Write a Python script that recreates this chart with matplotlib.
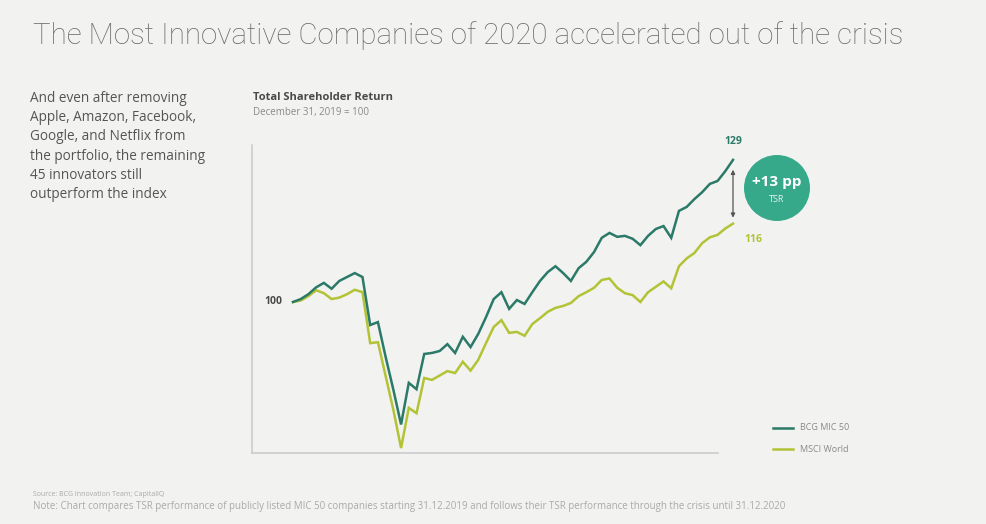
import numpy as np
import matplotlib
matplotlib.use("Agg")
import matplotlib.pyplot as plt
from matplotlib.patches import Circle

# ------------------------------------------------------------
# Data (weekly TSR index, Dec 31 2019 = 100)
# ------------------------------------------------------------
weeks = np.arange(58)

bcg_mic50 = [100.0, 100.6, 101.6, 103.0, 103.9, 102.7, 104.3, 105.1, 105.9, 105.1,
             95.3, 95.9, 88.8, 82.1, 75.0, 83.5, 82.2, 89.4, 89.6, 90.0,
             91.4, 89.6, 92.9, 90.8, 93.5, 96.9, 100.6, 102.0, 98.6, 100.4,
             99.6, 102.0, 104.3, 106.1, 107.3, 105.9, 104.3, 106.9, 108.2, 110.2,
             113.1, 114.1, 113.3, 113.5, 112.9, 111.6, 113.5, 114.9, 115.5, 113.1,
             118.6, 119.4, 121.0, 122.4, 124.1, 124.7, 126.7, 129.0]

msci_world = [100.0, 100.3, 101.2, 102.4, 101.8, 100.6, 100.9, 101.6, 102.5, 102.0,
              91.6, 91.8, 84.9, 78.0, 70.2, 78.4, 77.3, 84.5, 84.1, 85.0,
              85.9, 85.5, 87.8, 86.0, 88.2, 91.6, 94.9, 96.3, 93.7, 93.9,
              93.1, 95.5, 96.7, 98.0, 98.8, 99.2, 99.8, 101.2, 102.0, 102.9,
              104.5, 104.8, 102.9, 101.8, 101.4, 100.0, 102.0, 103.1, 104.2, 102.8,
              107.3, 108.9, 110.0, 112.0, 113.2, 113.7, 115.0, 116.0]

series_names = ["BCG MIC 50", "MSCI World"]

BG = "#f2f2f1"
DARK = "#2b7a68"
LIME = "#b3c336"
TEAL = "#35a98a"
W, H = 986, 524

plt.rcParams["font.family"] = ["Open Sans", "DejaVu Sans"]

fig = plt.figure(figsize=(W / 100, H / 100), dpi=100, facecolor=BG)


def fit_text(txt, target_px):
    # scale a text object so it spans roughly target_px
    fig.canvas.draw()
    r = fig.canvas.get_renderer()
    w = txt.get_window_extent(renderer=r).width
    txt.set_fontsize(txt.get_fontsize() * target_px / w)


# title
title = fig.text(33 / W, 1 - 36 / H,
                 "The Most Innovative Companies of 2020 accelerated out of the crisis",
                 fontsize=20, color="#6b6b6b", va="center", ha="left",
                 family=["Roboto", "DejaVu Sans"], fontweight="light")
fit_text(title, 872)

# left commentary
blurb = fig.text(30 / W, 1 - 91 / H,
                 "And even after removing\nApple, Amazon, Facebook,\nGoogle, and Netflix from\n"
                 "the portfolio, the remaining\n45 innovators still\noutperform the index",
                 fontsize=9.8, color="#555555", va="top", ha="left", linespacing=1.38)

# chart headings
fig.text(253 / W, 1 - 98 / H, "Total Shareholder Return", fontsize=8, fontweight="bold",
         color="#4a4a4a", va="center", ha="left")
fig.text(253 / W, 1 - 113 / H, "December 31, 2019 = 100", fontsize=7, color="#8a8a8a",
         va="center", ha="left")

# footer
fig.text(33 / W, 1 - 494 / H, "Source: BCG Innovation Team; CapitalIQ", fontsize=5,
         color="#aaaaaa", va="center", ha="left")
note = fig.text(33 / W, 1 - 507 / H,
                "Note: Chart compares TSR performance of publicly listed MIC 50 companies starting "
                "31.12.2019 and follows their TSR performance through the crisis until 31.12.2020",
                fontsize=5, color="#aaaaaa", va="center", ha="left")
fit_text(note, 762)

# ------------------------------------------------------------
# Axes
# ------------------------------------------------------------
ax = fig.add_axes([252 / W, 1 - 453 / H, (760 - 252) / W, (453 - 145) / H])
ax.set_facecolor("none")
px_per_week = 440 / 57
ax.set_xlim(-(293 - 252) / px_per_week, (760 - 293) / px_per_week)
ax.set_ylim(100 - 151 / 4.9, 100 + 157 / 4.9)

for s in ["top", "right"]:
    ax.spines[s].set_visible(False)
for s in ["left", "bottom"]:
    ax.spines[s].set_color("#c9c9c9")
    ax.spines[s].set_linewidth(1.1)
ax.spines["bottom"].set_bounds(ax.get_xlim()[0], (718 - 293) / px_per_week)
ax.set_xticks([])
ax.set_yticks([])

ax.plot(weeks, msci_world, color=LIME, lw=1.8, solid_joinstyle="miter", clip_on=False)
ax.plot(weeks, bcg_mic50, color=DARK, lw=1.8, solid_joinstyle="miter", clip_on=False)

# value labels
ax.text(-2.5, bcg_mic50[0], f"{bcg_mic50[0]:.0f}", fontsize=7.5, fontweight="bold",
        color="#4a4a4a", ha="center", va="center")
ax.text(weeks[-1], bcg_mic50[-1] + 3.7, f"{bcg_mic50[-1]:.0f}", fontsize=7.5,
        fontweight="bold", color=DARK, ha="center", va="center")
ax.text(weeks[-1] + 2.6, msci_world[-1] - 3.2, f"{msci_world[-1]:.0f}", fontsize=7.5,
        fontweight="bold", color=LIME, ha="center", va="center")

# spread arrow
ax.annotate("", xy=(weeks[-1], msci_world[-1] + 1.2), xytext=(weeks[-1], bcg_mic50[-1] - 2),
            arrowprops=dict(arrowstyle="<|-|>", color="#555555", lw=0.9,
                            mutation_scale=6, shrinkA=0, shrinkB=0))

# spread badge
spread = bcg_mic50[-1] - msci_world[-1]
badge = Circle((777 / 100, (H - 188) / 100), 33 / 100, transform=fig.dpi_scale_trans,
               facecolor=TEAL, edgecolor="none")
fig.add_artist(badge)
fig.text(777 / W, 1 - 182 / H, f"+{spread:.0f} pp", fontsize=11, fontweight="bold",
         color="white", ha="center", va="center")
fig.text(777 / W, 1 - 199 / H, "TSR", fontsize=6.5, color="#e8f5f0", ha="center",
         va="center")

# legend
for name, col, yy in zip(series_names, [DARK, LIME], [428, 449]):
    fig.add_artist(plt.Line2D([773 / W, 793 / W], [1 - yy / H, 1 - yy / H], color=col,
                              lw=1.8, transform=fig.transFigure))
    fig.text(800 / W, 1 - yy / H, name, fontsize=6.5, color="#8a8a8a", ha="left",
             va="center")

fig.savefig("out.png", dpi=100, facecolor=BG)
